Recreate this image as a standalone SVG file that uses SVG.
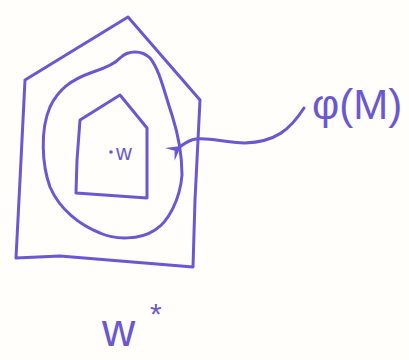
<svg xmlns="http://www.w3.org/2000/svg" width="409" height="360" viewBox="0 0 409 360">
<style>
.s{fill:none;stroke:#6a58d0;stroke-width:3;stroke-linejoin:round;stroke-linecap:round}
.t{fill:#6a58d0;font-family:"Liberation Sans",sans-serif}
</style>
<defs>
<marker id="ah" markerWidth="18" markerHeight="18" refX="2" refY="9" orient="auto" markerUnits="userSpaceOnUse">
<path d="M16,1 L2,9 L16,17 L10,9 Z" fill="#6a58d0"/>
</marker>
</defs>
<rect width="409" height="360" fill="#fffefb"/>
<g id="outer">
<path class="s" d="M128,17 L25,80 L20,180 L16,258 L60,256 L193,267 L195,200 L200,100 Z"/>
</g>
<g id="middle">
<path class="s" d="M120,58 C128,50 142,50 150,58 C160,70 165,95 172,115 C180,140 182,160 182,175 C180,200 168,222 155,230 C140,240 115,240 100,233 C80,225 60,210 50,187 C42,165 40,130 50,107 C58,90 70,80 93,72 C105,68 115,64 120,58 Z"/>
</g>
<g id="inner">
<path class="s" d="M120,95 L80,120 L77,160 L76,193 L147,198 L147,128 Z"/>
</g>
<g id="point">
<circle cx="111" cy="152" r="1.8" fill="#6a58d0"/>
<text class="t" x="116" y="160" font-size="22">w</text>
</g>
<g id="connectors">
<path class="s" d="M304,108 C290,130 275,142 245,143 C225,143 210,137 196,139 C189,140 185,143 181,146" marker-end="url(#ah)"/>
</g>
<g id="label-phi">
<text class="t" x="312" y="119" font-size="42">φ(M)</text>
</g>
<g id="label-w">
<text class="t" x="102" y="346" font-size="46">w</text>
<text class="t" x="150" y="324" font-size="30">*</text>
</g>
</svg>
